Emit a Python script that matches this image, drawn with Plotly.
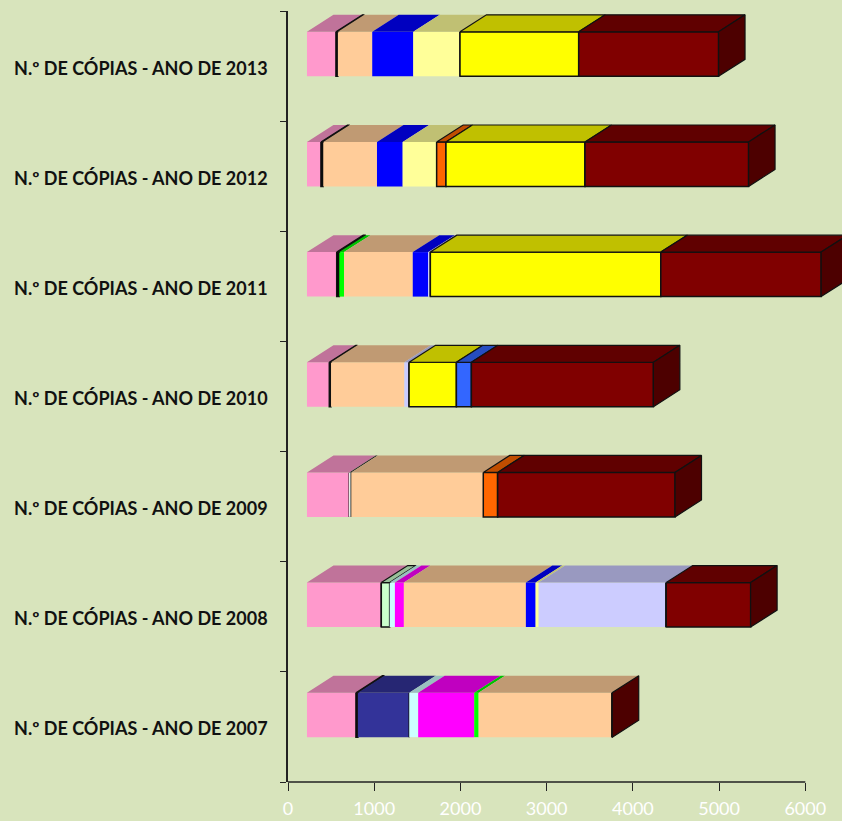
import plotly.graph_objects as go

years = [2007, 2008, 2009, 2010, 2011, 2012, 2013]
labels = [f"N.º DE CÓPIAS - ANO DE {y}" for y in years]
x_ticks = [0, 1000, 2000, 3000, 4000, 5000, 6000]

pink       = [568, 862, 491, 259, 345, 162, 336]
black      = [23, 0, 0, 20, 30, 27, 23]
white      = [0, 0, 23, 0, 0, 0, 0]
navy       = [595, 0, 0, 0, 0, 0, 0]
palegreen  = [0, 97, 0, 0, 0, 0, 0]
lightcyan  = [104, 61, 0, 0, 0, 0, 0]
magenta    = [650, 104, 0, 0, 0, 0, 0]
green      = [51, 0, 0, 0, 55, 0, 0]
peach      = [1550, 1415, 1531, 850, 797, 623, 398]
blue       = [0, 113, 0, 0, 181, 298, 476]
ltyellow   = [0, 35, 0, 0, 0, 394, 542]
lavender   = [0, 1480, 0, 55, 23, 0, 0]
orange     = [0, 0, 167, 0, 0, 108, 0]
yellow     = [0, 0, 0, 549, 2673, 1613, 1377]
royal      = [0, 0, 0, 174, 0, 0, 0]
darkred    = [0, 979, 2057, 2111, 1860, 1897, 1622]

series = [
    ("Rosa", pink, "#FF99CC", "#C0739A", False),
    ("Preto", black, "#000000", "#000000", True),
    ("Branco", white, "#E6EEE6", "#222222", False),
    ("Azul escuro", navy, "#333399", "#262673", False),
    ("Verde claro", palegreen, "#CCFFCC", "#99C099", True),
    ("Ciano claro", lightcyan, "#CCFFFF", "#99C0C0", False),
    ("Magenta", magenta, "#FF00FF", "#C000C0", False),
    ("Verde", green, "#00FF00", "#00C000", False),
    ("Pêssego", peach, "#FFCC99", "#C09A73", False),
    ("Azul", blue, "#0000FF", "#0000C0", False),
    ("Amarelo claro", ltyellow, "#FFFF99", "#C0C073", False),
    ("Lavanda", lavender, "#CCCCFF", "#9999C0", False),
    ("Laranja", orange, "#FF6600", "#C04D00", True),
    ("Amarelo", yellow, "#FFFF00", "#C0C000", True),
    ("Azul médio", royal, "#3366FF", "#264DC0", True),
    ("Vermelho escuro", darkred, "#800000", "#600000", True),
]

AXIS_START = 220      # the 3-D floor offset of the bars along the value axis
DEPTH_X = 307         # oblique depth, value units
DEPTH_Y = 0.154       # oblique depth, category units
BAR_W = 0.404
CENTRE = [i + 0.5 + 0.109 for i in range(len(years))]
EDGE = "#111111"
X_MAX_VISIBLE = 6000 * (842 - 288) / 517.3   # range runs on to the page edge

fig = go.Figure()
left = [AXIS_START] * len(years)

for name, vals, front, top, outlined in series:
    fig.add_trace(go.Bar(
        name=name, orientation="h", y=CENTRE, x=vals, base=left, width=BAR_W,
        marker=dict(color=front, line=dict(color=EDGE, width=1.5 if outlined else 0)),
        cliponaxis=False, showlegend=False,
    ))
    xs, ys = [], []
    for i, v in enumerate(vals):
        if v:
            yt = CENTRE[i] + BAR_W / 2
            xs += [left[i], left[i] + v, left[i] + v + DEPTH_X, left[i] + DEPTH_X, left[i], None]
            ys += [yt, yt, yt + DEPTH_Y, yt + DEPTH_Y, yt, None]
    fig.add_trace(go.Scatter(
        x=xs, y=ys, mode="lines", fill="toself", fillcolor=top,
        line=dict(color=EDGE if outlined else top, width=1.2 if outlined else 0),
        cliponaxis=False, showlegend=False, hoverinfo="skip",
    ))
    left = [a + b for a, b in zip(left, vals)]

# right-hand end faces
xs, ys = [], []
for i, end in enumerate(left):
    yb, yt = CENTRE[i] - BAR_W / 2, CENTRE[i] + BAR_W / 2
    xs += [end, end + DEPTH_X, end + DEPTH_X, end, end, None]
    ys += [yb, yb + DEPTH_Y, yt + DEPTH_Y, yt, yb, None]
fig.add_trace(go.Scatter(
    x=xs, y=ys, mode="lines", fill="toself", fillcolor="#4D0000",
    line=dict(color=EDGE, width=1.2), cliponaxis=False, showlegend=False, hoverinfo="skip",
))

AXIS = "#222222"
fig.update_layout(
    width=842, height=821, autosize=False,
    paper_bgcolor="#D8E4BC", plot_bgcolor="#D8E4BC",
    margin=dict(l=288, r=0, t=11, b=38.5, pad=0),
    barmode="overlay", showlegend=False,
    font=dict(family="Lato"),
    xaxis=dict(
        automargin=False,
        range=[0, X_MAX_VISIBLE], tickvals=x_ticks,
        ticks="outside", ticklen=8, tickwidth=1.2, tickcolor=AXIS, ticklabelstandoff=2,
        showline=False, showgrid=False, zeroline=False,
        tickfont=dict(family="Lato", size=18, color="#FFFFFF"),
    ),
    yaxis=dict(
        automargin=False,
        range=[0, 7], tickvals=[i + 0.48 for i in range(7)], ticktext=labels,
        ticks="", ticklabelstandoff=15,
        showline=True, linecolor=AXIS, linewidth=1.6, showgrid=False, zeroline=False,
        tickfont=dict(family="Lato", size=18, color="#111111", weight="bold"),
        minor=dict(tickvals=list(range(8)), ticks="outside", ticklen=6, tickwidth=1.2,
                   tickcolor=AXIS, showgrid=False),
    ),
    shapes=[dict(type="line", xref="x", yref="paper", x0=x_ticks[0], x1=x_ticks[-1], y0=0, y1=0,
                 line=dict(color=AXIS, width=1.6))],
)

fig.write_html(
    "out.html",
    config=dict(displayModeBar=False),
    post_script="document.documentElement.style.background='#D8E4BC';"
                "document.body.style.margin='0';document.body.style.background='#D8E4BC';"
                "document.body.style.overflow='hidden';",
)
